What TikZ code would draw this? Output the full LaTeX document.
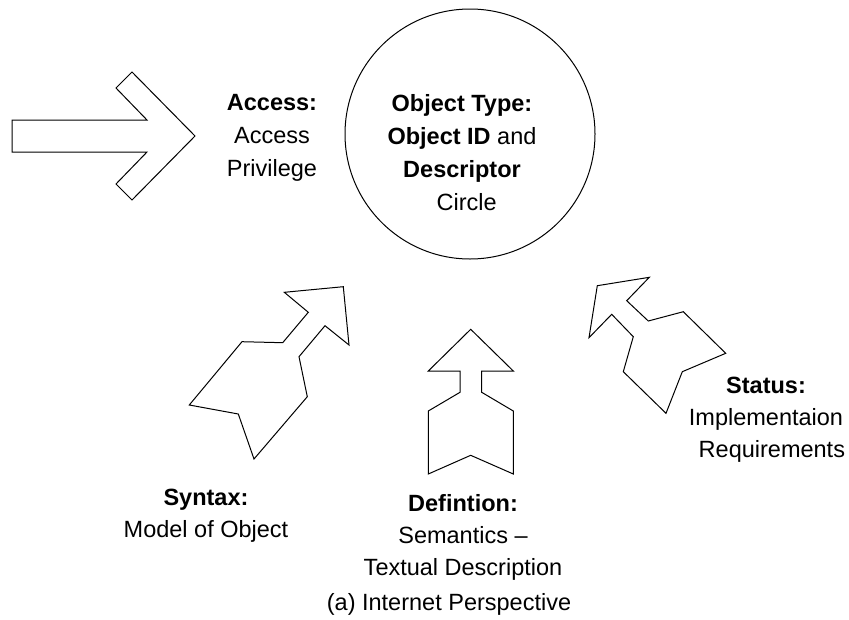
\documentclass[tikz,border=0pt]{standalone}
\usepackage{fontspec}
\setmainfont{Liberation Sans}
\begin{document}
\begin{tikzpicture}[x=1pt,y=-1pt,
  arrowshape/.style={draw=black, line width=1pt, line join=miter, fill=white},
  ring/.style={circle, draw=black, line width=1pt, minimum size=250pt, inner sep=0pt},
  lbl/.style={anchor=north, inner sep=0pt, align=center, font=\fontsize{23.5}{33}\selectfont},
  lbls/.style={anchor=north, inner sep=0pt, align=center, font=\fontsize{23.5}{32}\selectfont}
]
\useasboundingbox (0,0) rectangle (849,619);
\fill[white] (0,0) rectangle (849,619);

% central circle
\node[ring] (obj) at (470,134) {};
\node[lbl] (objtext) at (462,94.5) {\textbf{Object Type:}\\\textbf{Object ID} and\\\textbf{Descriptor}\\\hspace*{0.4em}Circle};

% access arrow (left)
\draw[arrowshape] (12,120) -- (147,120) -- (116,88) -- (132,72) -- (195,136)
  -- (132,200) -- (116,184) -- (147,152) -- (12,152) -- cycle;
\node[lbl] (access) at (272,94.5) {\textbf{Access:}\\Access\\Privilege};

% syntax arrow
\draw[arrowshape] (343.3,286.7) -- (284.3,292.3) -- (308.3,312.3) -- (282.7,342.7)
  -- (242,341.7) -- (189.3,405) -- (238.3,414) -- (254,459) -- (307.3,396.7)
  -- (299,356.7) -- (325,325.7) -- (349,345) -- cycle;
\node[lbls] (syntax) at (206,488.5) {\textbf{Syntax:}\\Model of Object};

% definition arrow
\draw[arrowshape] (470.7,329.3) -- (513.3,371) -- (481.7,371) -- (481.7,392.3)
  -- (513.3,411) -- (513.3,474) -- (470.7,455.3) -- (428.3,474) -- (428.3,411)
  -- (460,392.3) -- (460,371) -- (428.3,371) -- cycle;
\node[lbls] (defin) at (463,494.5) {\textbf{Defintion:}\\Semantics --\\Textual Description};

% status arrow
\draw[arrowshape] (597.3,285.7) -- (649.3,277.3) -- (626.7,300.7) -- (648.3,321)
  -- (683.3,311.7) -- (725.7,353.3) -- (682.3,371.7) -- (666,413.3) -- (623.3,371.7)
  -- (633.3,336.7) -- (611.7,314.3) -- (589,337.7) -- cycle;
\node[lbls] (status) at (766,376.5) {\textbf{Status:}\\Implementaion\\\hspace*{0.5em}Requirements};

% caption
\node[lbls] (caption) at (449,593.5) {(a) Internet Perspective};
\end{tikzpicture}
\end{document}
